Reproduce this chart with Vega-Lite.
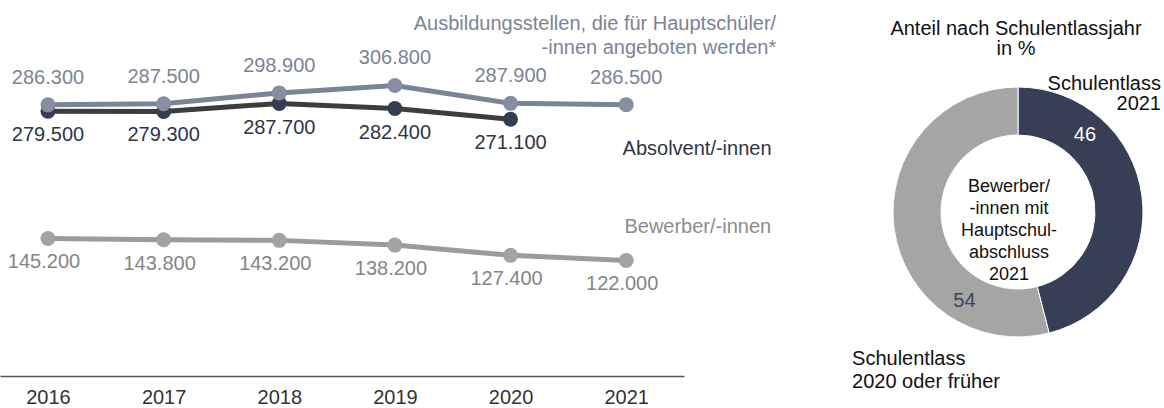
{
  "$schema": "https://vega.github.io/schema/vega-lite/v6.json",
  "padding": 0,
  "background": "white",
  "bounds": "flush",
  "spacing": 204,
  "config": {
    "font": "Liberation Sans",
    "view": {"stroke": null},
    "locale": {"number": {"decimal": ",", "thousands": ".", "grouping": [3], "currency": ["", " €"]}}
  },
  "datasets": {
    "trend": [
      {"series": "Absolvent", "year": 2016, "value": 279500},
      {"series": "Absolvent", "year": 2017, "value": 279300},
      {"series": "Absolvent", "year": 2018, "value": 287700},
      {"series": "Absolvent", "year": 2019, "value": 282400},
      {"series": "Absolvent", "year": 2020, "value": 271100},
      {"series": "Ausbildungsstellen", "year": 2016, "value": 286300},
      {"series": "Ausbildungsstellen", "year": 2017, "value": 287500},
      {"series": "Ausbildungsstellen", "year": 2018, "value": 298900},
      {"series": "Ausbildungsstellen", "year": 2019, "value": 306800},
      {"series": "Ausbildungsstellen", "year": 2020, "value": 287900},
      {"series": "Ausbildungsstellen", "year": 2021, "value": 286500},
      {"series": "Bewerber", "year": 2016, "value": 145200},
      {"series": "Bewerber", "year": 2017, "value": 143800},
      {"series": "Bewerber", "year": 2018, "value": 143200},
      {"series": "Bewerber", "year": 2019, "value": 138200},
      {"series": "Bewerber", "year": 2020, "value": 127400},
      {"series": "Bewerber", "year": 2021, "value": 122000}
    ],
    "anteil": [
      {"kategorie": "Schulentlass 2021", "anteil": 46},
      {"kategorie": "Schulentlass 2020 oder früher", "anteil": 54}
    ]
  },
  "hconcat": [
    {
      "width": 684,
      "height": 376,
      "data": {"name": "trend"},
      "encoding": {
        "x": {
          "field": "year", "type": "quantitative",
          "scale": {"domain": [2015.585, 2021.5], "nice": false, "zero": false},
          "axis": {
            "values": [2016, 2017, 2018, 2019, 2020, 2021], "format": "d", "title": null,
            "ticks": false, "grid": false, "domainColor": "#555555", "domainWidth": 1.5,
            "labelFontSize": 20, "labelColor": "#333333", "labelPadding": 11,
            "labelFlush": false, "labelOverlap": false, "labelFont": "Liberation Sans"
          }
        },
        "y": {
          "field": "value", "type": "quantitative",
          "scale": {"domain": [0, 397000], "nice": false},
          "axis": null
        }
      },
      "layer": [
        {
          "mark": {"type": "line", "strokeWidth": 5},
          "encoding": {
            "stroke": {
              "field": "series", "type": "nominal", "legend": null,
              "scale": {"domain": ["Absolvent", "Ausbildungsstellen", "Bewerber"], "range": ["#3d3d3d", "#7b8397", "#9b9b9b"]}
            }
          }
        },
        {
          "mark": {"type": "circle", "size": 225, "opacity": 1},
          "encoding": {
            "fill": {
              "field": "series", "type": "nominal", "legend": null,
              "scale": {"domain": ["Absolvent", "Ausbildungsstellen", "Bewerber"], "range": ["#353d52", "#868fa2", "#a3a3a3"]}
            }
          }
        },
        {
          "transform": [{"filter": "datum.series === 'Ausbildungsstellen'"}],
          "mark": {"type": "text", "dy": -27, "fontSize": 20, "fill": "#7b8397"},
          "encoding": {"text": {"field": "value", "type": "quantitative", "format": ",.0f"}}
        },
        {
          "transform": [{"filter": "datum.series === 'Absolvent'"}],
          "mark": {"type": "text", "dy": 24, "fontSize": 20, "fill": "#2e3548"},
          "encoding": {"text": {"field": "value", "type": "quantitative", "format": ",.0f"}}
        },
        {
          "transform": [{"filter": "datum.series === 'Bewerber'"}],
          "mark": {"type": "text", "dy": 24, "dx": -4, "fontSize": 20, "fill": "#858585"},
          "encoding": {"text": {"field": "value", "type": "quantitative", "format": ",.0f"}}
        },
        {
          "transform": [{"filter": "datum.series === 'Ausbildungsstellen' && datum.year === 2021"}],
          "mark": {"type": "text", "align": "right", "dx": 150, "dy": -81, "fontSize": 20, "lineHeight": 24, "fill": "#7b8397"},
          "encoding": {"text": {"value": ["Ausbildungsstellen, die für Hauptschüler/", "-innen  angeboten werden*"]}}
        },
        {
          "transform": [{"filter": "datum.series === 'Absolvent' && datum.year === 2020"}],
          "mark": {"type": "text", "align": "right", "dx": 261, "dy": 30, "fontSize": 20, "fill": "#2e3548"},
          "encoding": {"text": {"value": "Absolvent/-innen"}}
        },
        {
          "transform": [{"filter": "datum.series === 'Bewerber' && datum.year === 2021"}],
          "mark": {"type": "text", "align": "right", "dx": 145, "dy": -33.5, "fontSize": 20, "fill": "#8c8c8c"},
          "encoding": {"text": {"value": "Bewerber/-innen"}}
        }
      ]
    },
    {
      "spacing": 0,
      "bounds": "flush",
      "vconcat": [
        {
          "width": 260,
          "height": 78,
          "data": {"values": [{}]},
          "mark": {"type": "text", "fontSize": 20, "lineHeight": 20, "dy": -10, "dx": -2, "fill": "#111111"},
          "encoding": {"text": {"value": ["Anteil nach Schulentlassjahr", "in %"]}}
        },
        {
          "width": 260,
          "height": 268,
          "data": {"name": "anteil"},
          "layer": [
            {
              "mark": {"type": "arc", "innerRadius": 77, "outerRadius": 125, "stroke": "white", "strokeWidth": 1},
              "encoding": {
                "theta": {"field": "anteil", "type": "quantitative", "stack": true},
                "color": {
                  "field": "kategorie", "type": "nominal", "legend": null,
                  "scale": {"domain": ["Schulentlass 2021", "Schulentlass 2020 oder früher"], "range": ["#363f55", "#a5a5a5"]}
                },
                "order": {"field": "kategorie", "type": "nominal", "sort": "descending"}
              }
            },
            {
              "transform": [{"filter": "datum.kategorie === 'Schulentlass 2021'"}],
              "mark": {"type": "text", "radius": 102, "fontSize": 20, "fill": "white"},
              "encoding": {
                "theta": {"datum": 11.39},
                "text": {"field": "anteil", "type": "quantitative"}
              }
            },
            {
              "transform": [{"filter": "datum.kategorie === 'Schulentlass 2020 oder früher'"}],
              "mark": {"type": "text", "radius": 104, "fontSize": 20, "fill": "#3d4660"},
              "encoding": {
                "theta": {"datum": 58.6},
                "text": {"field": "anteil", "type": "quantitative"}
              }
            },
            {
              "transform": [{"filter": "datum.kategorie === 'Schulentlass 2021'"}],
              "mark": {"type": "text", "dx": -9, "dy": -25.5, "fontSize": 18, "lineHeight": 22, "fill": "#111111"},
              "encoding": {"text": {"value": ["Bewerber/", "-innen mit", "Hauptschul-", "abschluss", "2021"]}}
            },
            {
              "transform": [{"filter": "datum.kategorie === 'Schulentlass 2021'"}],
              "mark": {"type": "text", "radius": 191.6, "align": "right", "fontSize": 20, "lineHeight": 20, "fill": "#111111"},
              "encoding": {
                "theta": {"datum": 13.41},
                "text": {"value": ["Schulentlass", "2021"]}
              }
            },
            {
              "transform": [{"filter": "datum.kategorie === 'Schulentlass 2021'"}],
              "mark": {"type": "text", "radius": 221.7, "align": "left", "fontSize": 20, "lineHeight": 23, "fill": "#111111"},
              "encoding": {
                "theta": {"datum": 63.46},
                "text": {"value": ["Schulentlass", "2020 oder früher"]}
              }
            }
          ]
        }
      ]
    }
  ]
}
